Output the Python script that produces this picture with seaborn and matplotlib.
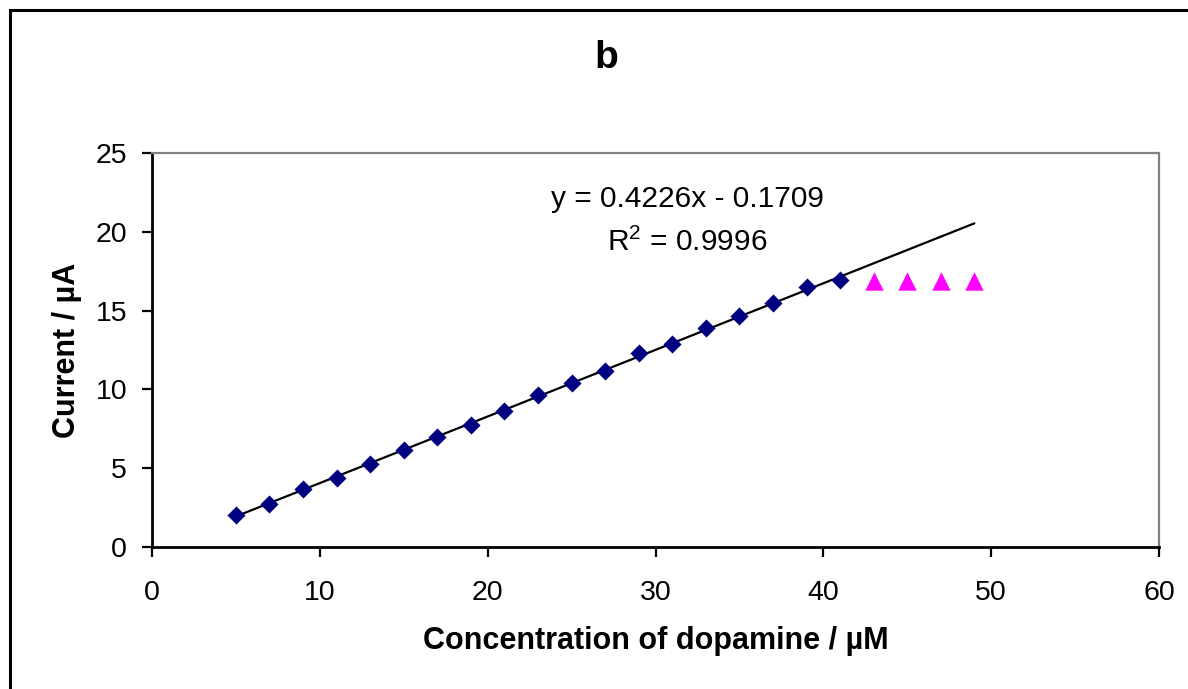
import numpy as np
import pandas as pd
import matplotlib
matplotlib.use("Agg")
import matplotlib.pyplot as plt
import matplotlib.patches as mpatches
import seaborn as sns

# ---- data ----
conc_linear = [5, 7, 9, 11, 13, 15, 17, 19, 21, 23, 25, 27, 29, 31, 33, 35, 37, 39, 41]
current_linear = [2.06, 2.76, 3.66, 4.40, 5.29, 6.14, 7.01, 7.75, 8.64, 9.66,
                  10.41, 11.15, 12.29, 12.89, 13.89, 14.63, 15.48, 16.50, 16.97]
conc_sat = [43, 45, 47, 49]
current_sat = [16.90, 16.90, 16.90, 16.90]
slope = 0.4226
intercept = -0.1709
r_squared = 0.9996
trend_x = [5, 49]
x_ticks = [0, 10, 20, 30, 40, 50, 60]
y_ticks = [0, 5, 10, 15, 20, 25]

sns.set_theme(style="white")
plt.rcParams['font.family'] = ['Liberation Sans', 'DejaVu Sans']
plt.rcParams['text.color'] = 'black'
plt.rcParams['axes.labelcolor'] = 'black'
plt.rcParams['mathtext.fontset'] = 'custom'
plt.rcParams['mathtext.rm'] = 'Liberation Sans'
plt.rcParams['mathtext.it'] = 'Liberation Sans'

fig = plt.figure(figsize=(11.88, 6.89), dpi=100)
fig.patch.set_facecolor('white')
W, H = 1188, 689
ax = fig.add_axes([152 / W, 1 - 547 / H, (1159 - 152) / W, (547 - 153) / H])

df_lin = pd.DataFrame({"x": conc_linear, "y": current_linear})
df_sat = pd.DataFrame({"x": conc_sat, "y": current_sat})
tx = np.array(trend_x, dtype=float)
df_trend = pd.DataFrame({"x": tx, "y": slope * tx + intercept})

sns.lineplot(data=df_trend, x="x", y="y", ax=ax, color="black", linewidth=1.6, zorder=2)
sns.scatterplot(data=df_lin, x="x", y="y", ax=ax, marker="D", s=85, color="#000080",
                edgecolor="#000080", linewidth=0, zorder=3)
sns.scatterplot(data=df_sat, x="x", y="y", ax=ax, marker="^", s=175, color="#FF00FF",
                edgecolor="#FF00FF", linewidth=0, zorder=3)

ax.set_xlim(0, 60)
ax.set_ylim(0, 25)
ax.set_xticks(x_ticks)
ax.set_yticks(y_ticks)
ax.set_xticklabels([str(t) for t in x_ticks])
ax.set_yticklabels([str(t) for t in y_ticks])
ax.tick_params(axis='both', which='major', direction='out', length=7, width=1.6,
               color='black', labelsize=20.5, labelcolor='black', bottom=True, left=True)
ax.tick_params(axis='x', pad=17)
ax.tick_params(axis='y', pad=11)

for side in ['left', 'bottom']:
    ax.spines[side].set_color('black')
    ax.spines[side].set_linewidth(2.0)
for side in ['top', 'right']:
    ax.spines[side].set_color('#808080')
    ax.spines[side].set_linewidth(1.6)
ax.grid(False)

ax.set_xlabel("Concentration of dopamine / µM", fontsize=22, fontweight='bold', color='black')
ax.set_ylabel("Current / µA", fontsize=22, fontweight='bold', color='black')
ax.xaxis.label.set_va('center')
ax.xaxis.set_label_coords(0.5, (547 - 641) / 394)
ax.yaxis.label.set_va('center')
ax.yaxis.set_label_coords((67 - 152) / 1007, 0.5)

ax.text(31.9, 22.1, f"y = {slope:.4f}x - {abs(intercept):.4f}", fontsize=21.5,
        ha='center', va='center', color='black')
ax.text(31.9, 19.3, f"R$^2$ = {r_squared:.4f}", fontsize=21.5,
        ha='center', va='center', color='black')

fig.text(606 / W, 1 - 58 / H, "b", fontsize=28, fontweight='bold', ha='center', va='center',
         color='black')

rect = mpatches.Rectangle((10 / W, -0.1), 1.2, 1 - 10 / H + 0.1, transform=fig.transFigure,
                          fill=False, edgecolor='black', linewidth=2.2, clip_on=False)
fig.patches.append(rect)

fig.savefig("out.png", dpi=100, facecolor='white')
